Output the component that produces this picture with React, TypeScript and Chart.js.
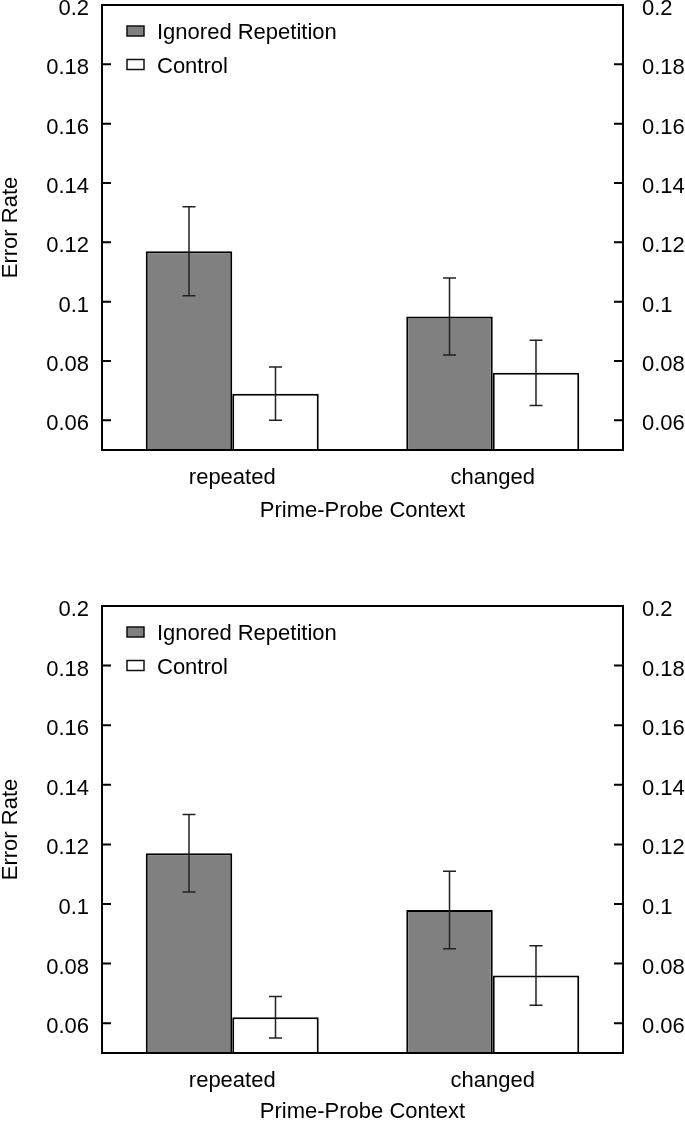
import React, { useEffect, useRef } from 'react';
import { Chart, registerables } from 'chart.js';

Chart.register(...registerables);
Chart.defaults.font.family = '"Liberation Sans", Arial, Helvetica, sans-serif';
Chart.defaults.font.size = 22;
Chart.defaults.color = '#000';

// ---------- data ----------
const categories = ['repeated', 'changed'];
const seriesNames = ['Ignored Repetition', 'Control'];
const seriesColors = ['#808080', '#ffffff'];

const topIgnored = [0.117, 0.095];
const topIgnoredLow = [0.102, 0.082];
const topIgnoredHigh = [0.132, 0.108];
const topControl = [0.069, 0.076];
const topControlLow = [0.06, 0.065];
const topControlHigh = [0.078, 0.087];

const bottomIgnored = [0.117, 0.098];
const bottomIgnoredLow = [0.104, 0.085];
const bottomIgnoredHigh = [0.13, 0.111];
const bottomControl = [0.062, 0.076];
const bottomControlLow = [0.055, 0.066];
const bottomControlHigh = [0.069, 0.086];

const yTickValues = [0.06, 0.08, 0.1, 0.12, 0.14, 0.16, 0.18, 0.2];
const yTickLabels = ['0.06', '0.08', '0.1', '0.12', '0.14', '0.16', '0.18', '0.2'];
const yMin = 0.05;
const yMax = 0.2;
const xTitle = 'Prime-Probe Context';
const yTitle = 'Error Rate';

// ---------- decorations plugin ----------
const decorPlugin = {
  id: 'panelDecor',
  afterDatasetsDraw(chart: any) {
    const ctx = chart.ctx;
    const ys = chart.scales.y;
    ctx.save();
    ctx.strokeStyle = '#222';
    ctx.lineWidth = 1.5;
    chart.data.datasets.forEach((ds: any, d: number) => {
      const meta = chart.getDatasetMeta(d);
      meta.data.forEach((el: any, i: number) => {
        const x = el.x;
        const yl = ys.getPixelForValue(ds.errLow[i]);
        const yh = ys.getPixelForValue(ds.errHigh[i]);
        ctx.beginPath();
        ctx.moveTo(x, yl);
        ctx.lineTo(x, yh);
        ctx.moveTo(x - 6.5, yl);
        ctx.lineTo(x + 6.5, yl);
        ctx.moveTo(x - 6.5, yh);
        ctx.lineTo(x + 6.5, yh);
        ctx.stroke();
      });
    });
    ctx.restore();
  },
  afterDraw(chart: any) {
    const ctx = chart.ctx;
    const a = chart.chartArea;
    ctx.save();
    ctx.strokeStyle = '#000';
    ctx.lineWidth = 2;
    ctx.strokeRect(a.left, a.top, a.right - a.left, a.bottom - a.top);
    ctx.beginPath();
    const yl = chart.scales.y;
    yl.ticks.forEach((t: any) => {
      const p = yl.getPixelForValue(t.value);
      ctx.moveTo(a.left, p);
      ctx.lineTo(a.left + 9, p);
    });
    const yr = chart.scales.y2;
    yr.ticks.forEach((t: any) => {
      const p = yr.getPixelForValue(t.value);
      ctx.moveTo(a.right, p);
      ctx.lineTo(a.right - 9, p);
    });
    ctx.stroke();
    // legend
    ctx.font = '22px "Liberation Sans", Arial, sans-serif';
    ctx.textBaseline = 'middle';
    ctx.textAlign = 'left';
    chart.data.datasets.forEach((ds: any, d: number) => {
      const ty = a.top + 28 + d * 33.5;
      ctx.fillStyle = ds.backgroundColor;
      ctx.fillRect(a.left + 25, ty - 7, 17, 10);
      ctx.lineWidth = 1.5;
      ctx.strokeStyle = '#111';
      ctx.strokeRect(a.left + 25, ty - 7, 17, 10);
      ctx.fillStyle = '#000';
      ctx.fillText(ds.label, a.left + 55, ty);
    });
    ctx.restore();
  },
};

type PanelProps = {
  top: number;
  height: number;
  padTop: number;
  xAxisHeight: number;
  titlePad: number;
  ignored: number[];
  ignoredLow: number[];
  ignoredHigh: number[];
  control: number[];
  controlLow: number[];
  controlHigh: number[];
};

function yAxis(position: string, pad: number, width: number, withTitle: boolean) {
  return {
    position,
    min: yMin,
    max: yMax,
    grid: { display: false, drawTicks: false },
    border: { display: false },
    afterBuildTicks: (s: any) => {
      s.ticks = yTickValues.map((v) => ({ value: v }));
    },
    ticks: {
      padding: pad,
      labelOffset: 4,
      color: '#000',
      font: { size: 22 },
      callback: (_v: any, i: number) => yTickLabels[i],
    },
    title: {
      display: withTitle,
      text: yTitle,
      color: '#000',
      font: { size: 22, lineHeight: '16px' },
      padding: { top: 3, bottom: 0 },
    },
    afterFit: (s: any) => {
      s.width = width;
      s.paddingTop = 0;
      s.paddingBottom = 0;
    },
  };
}

function Panel(p: PanelProps) {
  const ref = useRef<HTMLCanvasElement>(null);
  useEffect(() => {
    if (!ref.current) return;
    const chart = new Chart(ref.current, {
      type: 'bar',
      data: {
        labels: categories,
        datasets: [
          {
            label: seriesNames[0],
            data: p.ignored,
            errLow: p.ignoredLow,
            errHigh: p.ignoredHigh,
            backgroundColor: seriesColors[0],
            borderColor: '#000',
            borderWidth: 2,
            categoryPercentage: 0.664,
            barPercentage: 1,
          } as any,
          {
            label: seriesNames[1],
            data: p.control,
            errLow: p.controlLow,
            errHigh: p.controlHigh,
            backgroundColor: seriesColors[1],
            borderColor: '#000',
            borderWidth: 2,
            categoryPercentage: 0.664,
            barPercentage: 1,
          } as any,
        ],
      },
      options: {
        animation: false,
        responsive: false,
        devicePixelRatio: 1,
        layout: { padding: { top: p.padTop, left: 0, right: 0, bottom: 0 } },
        plugins: { legend: { display: false }, tooltip: { enabled: false } },
        scales: {
          x: {
            grid: { display: false, drawTicks: false },
            border: { display: false },
            ticks: { padding: 15, color: '#000', font: { size: 22 } },
            title: {
              display: true,
              text: xTitle,
              color: '#000',
              font: { size: 22, lineHeight: '16px' },
              padding: { top: 0, bottom: p.titlePad },
            },
            afterFit: (s: any) => {
              s.height = p.xAxisHeight;
              s.paddingLeft = 0;
              s.paddingRight = 0;
            },
          },
          y: yAxis('left', 13, 102, true),
          y2: yAxis('right', 19, 62, false),
        } as any,
      },
      plugins: [decorPlugin],
    });
    return () => chart.destroy();
  }, []);
  return (
    <canvas
      ref={ref}
      width={685}
      height={p.height}
      style={{ position: 'absolute', left: 0, top: p.top, width: 685, height: p.height, display: 'block' }}
    />
  );
}

export default function App() {
  return (
    <div style={{ position: 'absolute', left: 0, top: 0, width: 685, height: 1121, background: '#fff', overflow: 'hidden' }}>
      <Panel
        top={0}
        height={520}
        padTop={5}
        xAxisHeight={70}
        titlePad={1}
        ignored={topIgnored}
        ignoredLow={topIgnoredLow}
        ignoredHigh={topIgnoredHigh}
        control={topControl}
        controlLow={topControlLow}
        controlHigh={topControlHigh}
      />
      <Panel
        top={601}
        height={520}
        padTop={5}
        xAxisHeight={68}
        titlePad={1}
        ignored={bottomIgnored}
        ignoredLow={bottomIgnoredLow}
        ignoredHigh={bottomIgnoredHigh}
        control={bottomControl}
        controlLow={bottomControlLow}
        controlHigh={bottomControlHigh}
      />
    </div>
  );
}
